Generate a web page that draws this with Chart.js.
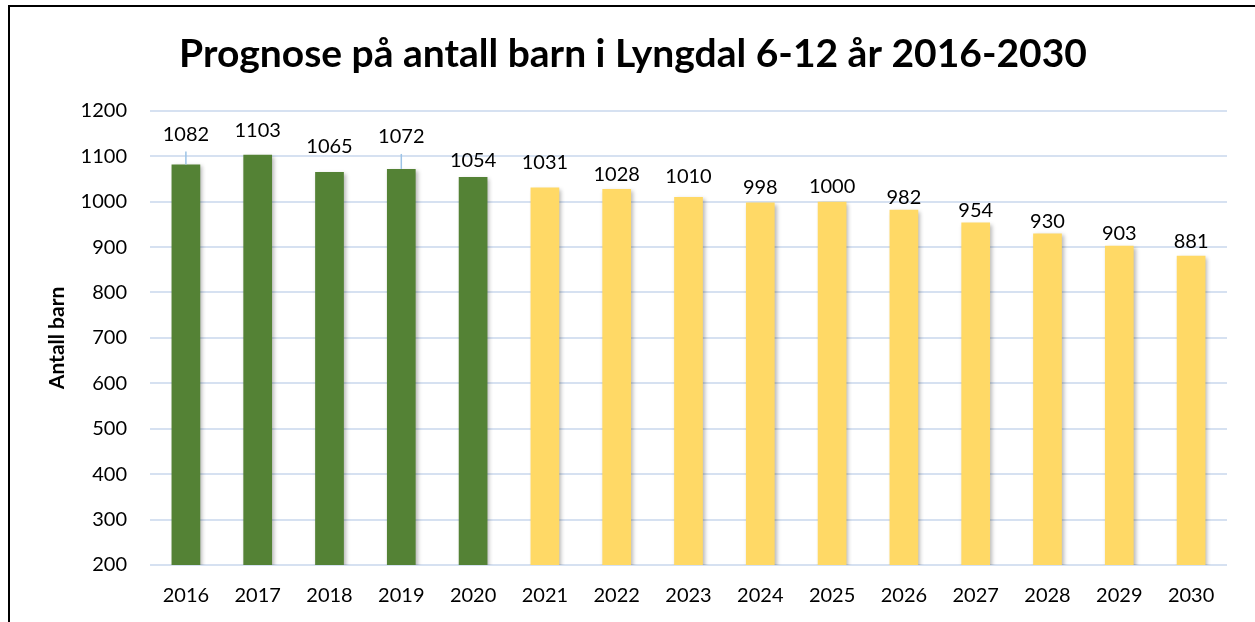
<!DOCTYPE html>
<html>
<head>
<meta charset="utf-8">
<script src="https://cdn.jsdelivr.net/npm/chart.js@4"></script>
<style>
  body{margin:0;background:#fff;overflow:hidden;}
  #frame{position:absolute;left:8px;top:5px;width:1260px;height:640px;border:2px solid #000;}
  #c{position:absolute;left:0;top:0;}
</style>
</head>
<body>
<div id="frame"></div>
<canvas id="c" width="1255" height="622"></canvas>
<script>
// data
const years=["2016","2017","2018","2019","2020","2021","2022","2023","2024","2025","2026","2027","2028","2029","2030"];
const children=[1082,1103,1065,1072,1054,1031,1028,1010,998,1000,982,954,930,903,881];
const isPrognosis=[false,false,false,false,false,true,true,true,true,true,true,true,true,true,true];
const yTicks=[200,300,400,500,600,700,800,900,1000,1100,1200];

const FONT='Lato, "Open Sans", sans-serif';
const green="#548235", yellow="#ffd966";

// label center relative to bar top, px (labels were nudged by hand in the original)
const labelShift=[-30,-24,-26,-32,-17,-25,-14,-21,-15,-15,-12,-12,-12,-12,-14];
const withLeader=[0,3];

const barShadow={
  id:"barShadow",
  beforeDatasetDraw(chart){
    const ctx=chart.ctx;
    ctx.save();
    ctx.shadowColor="rgba(0,0,0,0.28)";
    ctx.shadowBlur=4;
    ctx.shadowOffsetX=2;
    ctx.shadowOffsetY=2;
  },
  afterDatasetDraw(chart){
    chart.ctx.restore();
  }
};

const valueLabels={
  id:"valueLabels",
  afterDatasetsDraw(chart){
    const ctx=chart.ctx;
    const bars=chart.getDatasetMeta(0).data;
    ctx.save();
    ctx.font="20px "+FONT;
    ctx.fillStyle="#000";
    ctx.textAlign="center";
    ctx.textBaseline="middle";
    bars.forEach((bar,i)=>{
      const cy=bar.y+labelShift[i];
      ctx.fillText(String(children[i]),bar.x,cy);
      if(withLeader.includes(i)){
        ctx.strokeStyle="#9dc3e6";
        ctx.lineWidth=1.5;
        ctx.beginPath();
        ctx.moveTo(bar.x,cy+17);
        ctx.lineTo(bar.x,bar.y);
        ctx.stroke();
      }
    });
    ctx.restore();
  }
};

new Chart(document.getElementById("c"),{
  type:"bar",
  data:{
    labels:years,
    datasets:[{
      data:children,
      backgroundColor:isPrognosis.map(p=>p?yellow:green),
      borderWidth:0,
      categoryPercentage:1,
      barPercentage:0.4
    }]
  },
  options:{
    responsive:false,
    animation:false,
    layout:{padding:{left:39,right:28,top:0,bottom:0}},
    plugins:{
      legend:{display:false},
      tooltip:{enabled:false},
      title:{
        display:true,
        text:"Prognose på antall barn i Lyngdal 6-12 år 2016-2030",
        color:"#000",
        font:{family:FONT,size:39,weight:"bold"},
        padding:{top:31,bottom:33}
      }
    },
    scales:{
      x:{
        afterFit(scale){scale.height=57;},
        grid:{display:false,drawTicks:false},
        border:{display:false},
        ticks:{color:"#000",font:{family:FONT,size:20},padding:19,maxRotation:0}
      },
      y:{
        min:200,
        max:1200,
        afterBuildTicks(scale){scale.ticks=yTicks.map(v=>({value:v}));},
        afterFit(scale){scale.width=111;},
        grid:{color:"#d6e1f1",lineWidth:2,drawTicks:false},
        border:{display:false},
        ticks:{color:"#000",font:{family:FONT,size:20},padding:23,callback:v=>String(v)},
        title:{
          display:true,
          text:"Antall barn",
          color:"#000",
          font:{family:FONT,size:21,weight:"bold"},
          padding:{top:6,bottom:0}
        }
      }
    }
  },
  plugins:[barShadow,valueLabels]
});
</script>
</body>
</html>
